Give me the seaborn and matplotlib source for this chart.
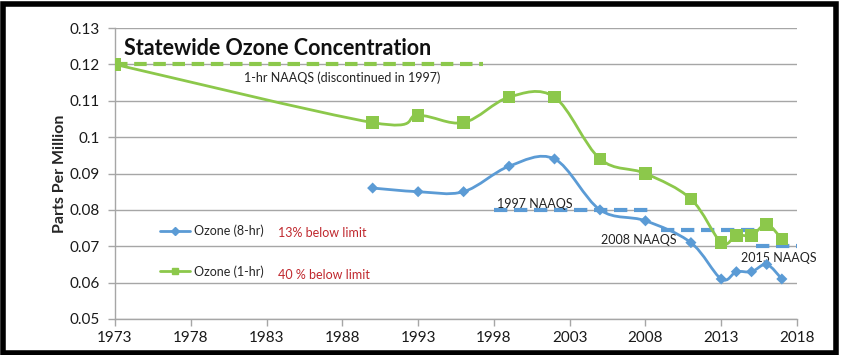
import numpy as np
import pandas as pd
import matplotlib
matplotlib.use("Agg")
import matplotlib.pyplot as plt
from matplotlib.path import Path
from matplotlib.patches import PathPatch, Rectangle
from matplotlib.lines import Line2D
import seaborn as sns

# ---------------- data ----------------
years_1hr = [1973, 1990, 1993, 1996, 1999, 2002, 2005, 2008, 2011, 2013, 2014, 2015, 2016, 2017]
ozone_1hr = [0.120, 0.104, 0.106, 0.104, 0.111, 0.111, 0.094, 0.090, 0.083, 0.071, 0.073, 0.073, 0.076, 0.072]

years_8hr = [1990, 1993, 1996, 1999, 2002, 2005, 2008, 2011, 2013, 2014, 2015, 2016, 2017]
ozone_8hr = [0.086, 0.085, 0.085, 0.092, 0.094, 0.080, 0.077, 0.071, 0.061, 0.063, 0.063, 0.065, 0.061]

naaqs_labels = ["1-hr NAAQS (discontinued in 1997)", "1997 NAAQS", "2008 NAAQS", "2015 NAAQS"]
naaqs_levels = [0.120, 0.080, 0.0745, 0.070]
naaqs_start = [1973, 1998, 2009, 2015.3]
naaqs_end = [1997.3, 2008.3, 2015.2, 2018]

x_ticks = [1973, 1978, 1983, 1988, 1993, 1998, 2003, 2008, 2013, 2018]
y_ticks = [0.05, 0.06, 0.07, 0.08, 0.09, 0.10, 0.11, 0.12, 0.13]
y_tick_labels = ["0.05", "0.06", "0.07", "0.08", "0.09", "0.1", "0.11", "0.12", "0.13"]

series_names = ["Ozone (8-hr)", "Ozone (1-hr)"]
below_limit = ["13% below limit", "40 % below limit"]

GREEN = "#8CC84B"
BLUE = "#5B9BD5"
RED = "#C0282E"
GRID = "#A6A6A6"

sns.set_theme(style="white")
plt.rcParams["font.family"] = ["Lato", "DejaVu Sans"]

fig = plt.figure(figsize=(8.5, 3.55), dpi=100)
ax = fig.add_axes([115 / 850, 1 - 319 / 355, (797 - 115) / 850, (319 - 28) / 355])

df1 = pd.DataFrame({"year": years_1hr, "ppm": ozone_1hr})
df8 = pd.DataFrame({"year": years_8hr, "ppm": ozone_8hr})


def smooth_path(xs, ys):
    """Excel-style smoothed line: cubic Bezier through every point."""
    P = np.column_stack([xs, ys]).astype(float)
    n = len(P)
    verts = [P[0]]
    codes = [Path.MOVETO]
    for i in range(n - 1):
        p0 = P[i - 1] if i > 0 else P[i]
        p1 = P[i]
        p2 = P[i + 1]
        p3 = P[i + 2] if i + 2 < n else P[i + 1]
        c1 = p1 + (p2 - p0) / 6.0
        c2 = p2 - (p3 - p1) / 6.0
        verts += [c1, c2, p2]
        codes += [Path.CURVE4] * 3
    return Path(np.array(verts), codes)


# NAAQS dashed reference lines
for lab, lvl, s, e in zip(naaqs_labels, naaqs_levels, naaqs_start, naaqs_end):
    if lab.startswith("1-hr"):
        ax.hlines(lvl, s, e, colors=GREEN, linewidth=3, linestyles=(0, (3, 1.6)), zorder=2)
    else:
        ax.hlines(lvl, s, e, colors=BLUE, linewidth=3, linestyles=(0, (3.2, 1.6)), zorder=2)

# smoothed lines
ax.add_patch(PathPatch(smooth_path(df1.year, df1.ppm), facecolor="none", edgecolor=GREEN, lw=2, zorder=3))
ax.add_patch(PathPatch(smooth_path(df8.year, df8.ppm), facecolor="none", edgecolor=BLUE, lw=2, zorder=3))

# markers
sns.scatterplot(data=df1, x="year", y="ppm", marker="s", s=80, color=GREEN, edgecolor="none", ax=ax, zorder=4)
sns.scatterplot(data=df8, x="year", y="ppm", marker="D", s=32, color=BLUE, edgecolor="none", ax=ax, zorder=4)

ax.set_xlim(1973, 2018)
ax.set_ylim(0.05, 0.13)
ax.set_xticks(x_ticks)
ax.set_xticklabels([str(t) for t in x_ticks], fontsize=11)
ax.set_yticks(y_ticks)
ax.set_yticklabels(y_tick_labels, fontsize=11)
ax.yaxis.grid(True, color=GRID, linewidth=1)
ax.xaxis.grid(False)
ax.set_axisbelow(True)
for sp in ["top", "right"]:
    ax.spines[sp].set_visible(False)
for sp in ["left", "bottom"]:
    ax.spines[sp].set_color(GRID)
    ax.spines[sp].set_linewidth(1)
ax.tick_params(axis="both", which="major", direction="out", length=5, width=1, color=GRID,
               labelcolor="#1a1a1a", left=True, bottom=True)
ax.tick_params(axis="y", pad=6)
ax.tick_params(axis="x", pad=4)
ax.set_xlabel("")
ax.set_ylabel("Parts Per Million", fontsize=11.5, fontweight="bold", labelpad=2)

# title
ax.text(1973.6, 0.1245, "Statewide Ozone Concentration", fontsize=15.5, fontweight="bold",
        ha="left", va="center", color="#111111")

# NAAQS labels
ax.text(1981.5, 0.1163, naaqs_labels[0], fontsize=9, ha="left", va="center", color="#222222")
ax.text(1998.2, 0.0816, naaqs_labels[1], fontsize=9, ha="left", va="center", color="#222222")
ax.text(2005.1, 0.0718, naaqs_labels[2], fontsize=9, ha="left", va="center", color="#222222")
ax.text(2014.3, 0.0668, naaqs_labels[3], fontsize=9, ha="left", va="center", color="#222222")

# legend
handles = [
    Line2D([0], [0], color=BLUE, lw=2, marker="D", markersize=4.5),
    Line2D([0], [0], color=GREEN, lw=2, marker="s", markersize=5),
]
leg = ax.legend(handles, series_names, loc="upper left", bbox_to_anchor=(0.05, 0.362),
                frameon=False, fontsize=9, handlelength=2.4, handletextpad=0.3, labelspacing=2.2)

ax.text(1983.75, 0.0737, below_limit[0], fontsize=9, color=RED, ha="left", va="center")
ax.text(1983.75, 0.0621, below_limit[1], fontsize=9, color=RED, ha="left", va="center")

# outer black frame
fig.patches.append(Rectangle((2.5 / 850, 2.5 / 355), 833 / 850, 349 / 355,
                             transform=fig.transFigure, fill=False, edgecolor="black",
                             linewidth=4, zorder=10))

fig.savefig("out.png", dpi=100)
